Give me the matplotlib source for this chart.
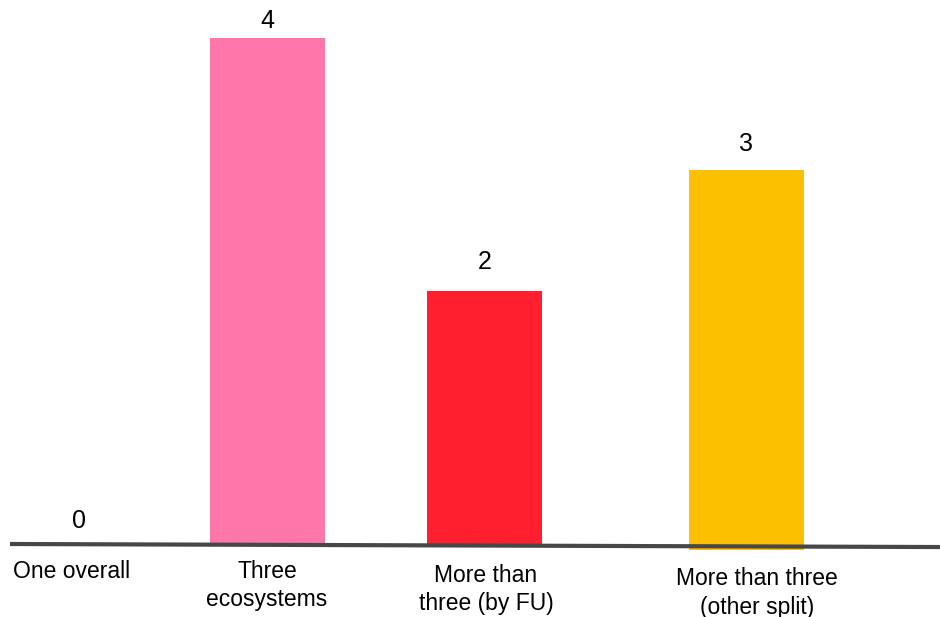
import matplotlib.pyplot as plt

plt.rcParams['font.family'] = ['Liberation Sans', 'DejaVu Sans']

# 棒グラフのデータ
categories = ['One overall', 'Three\necosystems', 'More than\nthree (by FU)',
              'More than three\n(other split)']
counts = [0, 4, 2, 3]
colors = ['#FF77AA', '#FF77AA', '#FF1F2E', '#FCC000']

# レイアウト（x位置はピクセル基準、y はデータ単位）
x_pos = [76, 267.5, 484.5, 746.5]
bar_bottom = [0, 0, 0, -0.045]
value_gap = [0.18, 0.135, 0.23, 0.21]
label_x = [72, 267, 486, 757]
label_top = [-0.125, -0.125, -0.155, -0.185]

fig = plt.figure(figsize=(9.4, 6.17), dpi=100)
ax = fig.add_axes([0, 0, 1, 1])
ax.set_xlim(0, 940)
ax.set_ylim(-0.577, 4.30)
ax.axis('off')

for x, v, b, g, c in zip(x_pos, counts, bar_bottom, value_gap, colors):
    if v > 0:
        ax.bar(x, v, width=115, bottom=b, color=c, zorder=1)
    ax.text(x + (3 if v == 0 else 0), b + v + g, str(v),
            ha='center', va='center', fontsize=18, zorder=3)

# ベースライン（わずかに右下がり）
ax.plot([10, 940], [0.0, -0.024], color='#474747', lw=3, solid_capstyle='butt', zorder=2)

for lx, ly, name in zip(label_x, label_top, categories):
    ax.text(lx, ly, name, ha='center', va='top', fontsize=16.5, linespacing=1.3)

fig.savefig('out.png', dpi=100)
